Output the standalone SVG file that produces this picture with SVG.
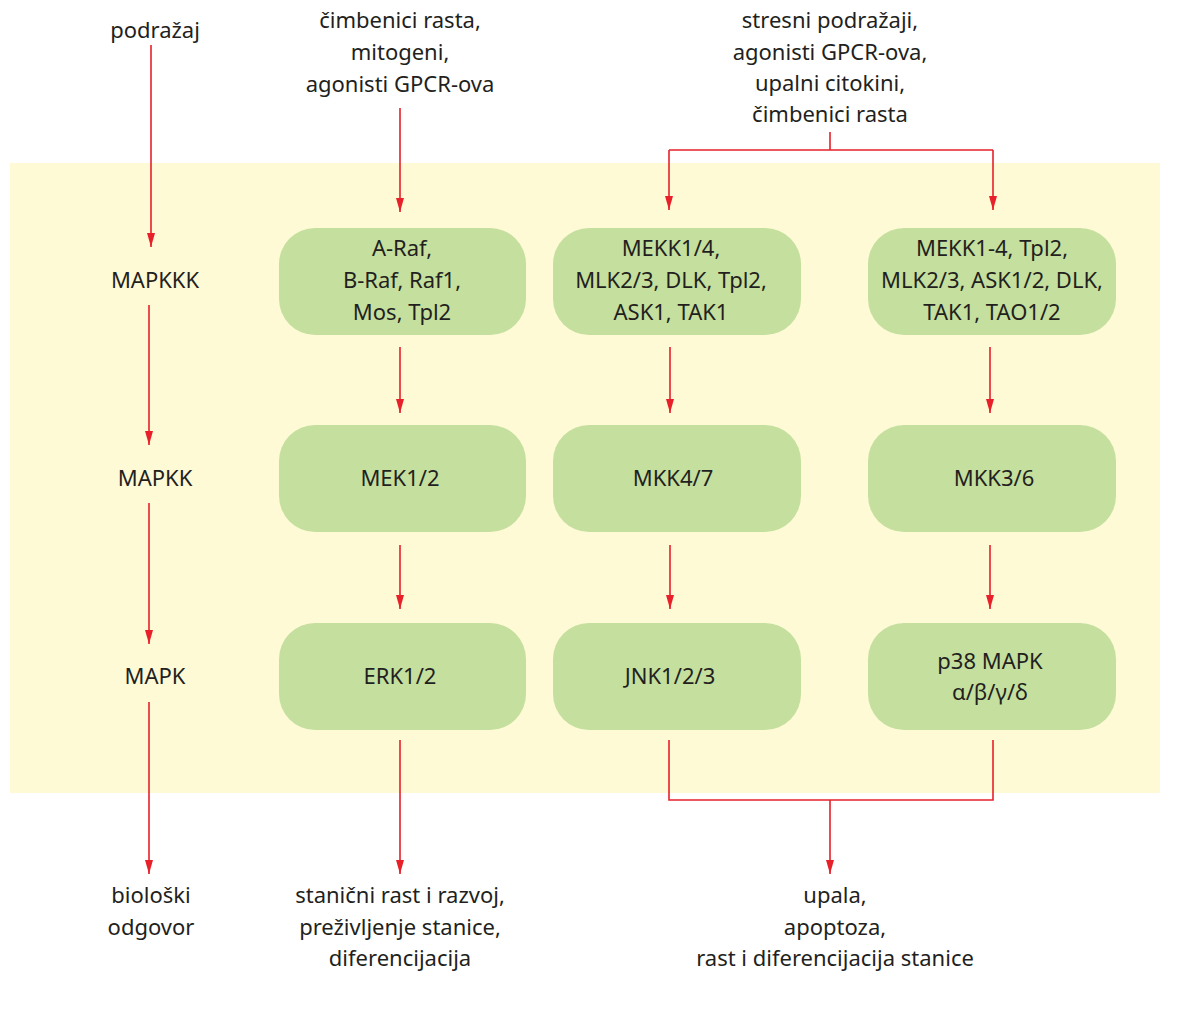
<svg xmlns="http://www.w3.org/2000/svg" width="1188" height="1009" viewBox="0 0 1188 1009">
<defs>
<style>
text{font-family:"Noto Sans","Open Sans",sans-serif;font-size:22px;fill:#231F20;text-anchor:middle}
.node{fill:#C5DF9E}
.arr{stroke:#E8202A;stroke-width:1.6;fill:none;marker-end:url(#ah)}
.ln{stroke:#E8202A;stroke-width:1.6;fill:none}
</style>
<marker id="ah" viewBox="0 0 14 8" refX="14" refY="4" markerWidth="14" markerHeight="8" markerUnits="userSpaceOnUse" orient="auto">
<path d="M0,0 L14,4 L0,8 z" fill="#E8202A"/>
</marker>
</defs>
<rect x="0" y="0" width="1188" height="1009" fill="#FFFFFF"/>
<rect id="panel" x="10" y="163" width="1150" height="630" fill="#FFFAD6"/>

<g id="labels">
<text x="155" y="38">podražaj</text>
<text x="155" y="288">MAPKKK</text>
<text x="155" y="486">MAPKK</text>
<text x="155" y="684">MAPK</text>
<text x="151" y="903">biološki</text>
<text x="151" y="935">odgovor</text>
</g>

<g id="input1">
<text x="400" y="28">čimbenici rasta,</text>
<text x="400" y="60">mitogeni,</text>
<text x="400" y="92">agonisti GPCR-ova</text>
</g>
<g id="input2">
<text x="830" y="28">stresni podražaji,</text>
<text x="830" y="60">agonisti GPCR-ova,</text>
<text x="830" y="91">upalni citokini,</text>
<text x="830" y="122">čimbenici rasta</text>
</g>

<g id="n-raf"><rect class="node" x="279" y="228" width="247" height="107" rx="36"/>
<text x="402" y="256">A-Raf,</text><text x="402" y="288">B-Raf, Raf1,</text><text x="402" y="320">Mos, Tpl2</text></g>
<g id="n-mekk14"><rect class="node" x="553" y="228" width="248" height="107" rx="36"/>
<text x="671" y="256">MEKK1/4,</text><text x="671" y="288">MLK2/3, DLK, Tpl2,</text><text x="671" y="320">ASK1, TAK1</text></g>
<g id="n-mekk14b"><rect class="node" x="868" y="228" width="248" height="107" rx="36"/>
<text x="992" y="256">MEKK1-4, Tpl2,</text><text x="992" y="288">MLK2/3, ASK1/2, DLK,</text><text x="992" y="320">TAK1, TAO1/2</text></g>

<g id="n-mek12"><rect class="node" x="279" y="425" width="247" height="107" rx="36"/>
<text x="400" y="486">MEK1/2</text></g>
<g id="n-mkk47"><rect class="node" x="553" y="425" width="248" height="107" rx="36"/>
<text x="673" y="486">MKK4/7</text></g>
<g id="n-mkk36"><rect class="node" x="868" y="425" width="248" height="107" rx="36"/>
<text x="994" y="486">MKK3/6</text></g>

<g id="n-erk"><rect class="node" x="279" y="623" width="247" height="107" rx="36"/>
<text x="400" y="684">ERK1/2</text></g>
<g id="n-jnk"><rect class="node" x="553" y="623" width="248" height="107" rx="36"/>
<text x="670" y="684">JNK1/2/3</text></g>
<g id="n-p38"><rect class="node" x="868" y="623" width="248" height="107" rx="36"/>
<text x="990" y="669">p38 MAPK</text><text x="990" y="700">α/β/γ/δ</text></g>

<g id="out1">
<text x="400" y="903">stanični rast i razvoj,</text>
<text x="400" y="935">preživljenje stanice,</text>
<text x="400" y="966">diferencijacija</text>
</g>
<g id="out2">
<text x="835" y="903">upala,</text>
<text x="835" y="935">apoptoza,</text>
<text x="835" y="966">rast i diferencijacija stanice</text>
</g>

<g id="connectors">
<line class="arr" x1="151" y1="45" x2="151" y2="247"/>
<line class="arr" x1="149" y1="305" x2="149" y2="445"/>
<line class="arr" x1="149" y1="503" x2="149" y2="644"/>
<line class="arr" x1="149" y1="702" x2="149" y2="874"/>

<line class="arr" x1="400" y1="108" x2="400" y2="212"/>
<line class="arr" x1="400" y1="347" x2="400" y2="413"/>
<line class="arr" x1="400" y1="545" x2="400" y2="609"/>
<line class="arr" x1="400" y1="740" x2="400" y2="874"/>

<path class="ln" d="M830,132 V150 M669,150 H993"/>
<line class="arr" x1="669" y1="150" x2="669" y2="210"/>
<line class="arr" x1="993" y1="150" x2="993" y2="210"/>

<line class="arr" x1="670" y1="347" x2="670" y2="413"/>
<line class="arr" x1="670" y1="545" x2="670" y2="609"/>
<line class="arr" x1="990" y1="347" x2="990" y2="413"/>
<line class="arr" x1="990" y1="545" x2="990" y2="609"/>

<path class="ln" d="M669,740 V800 H993 V740"/>
<line class="arr" x1="830" y1="800" x2="830" y2="874"/>
</g>
</svg>
